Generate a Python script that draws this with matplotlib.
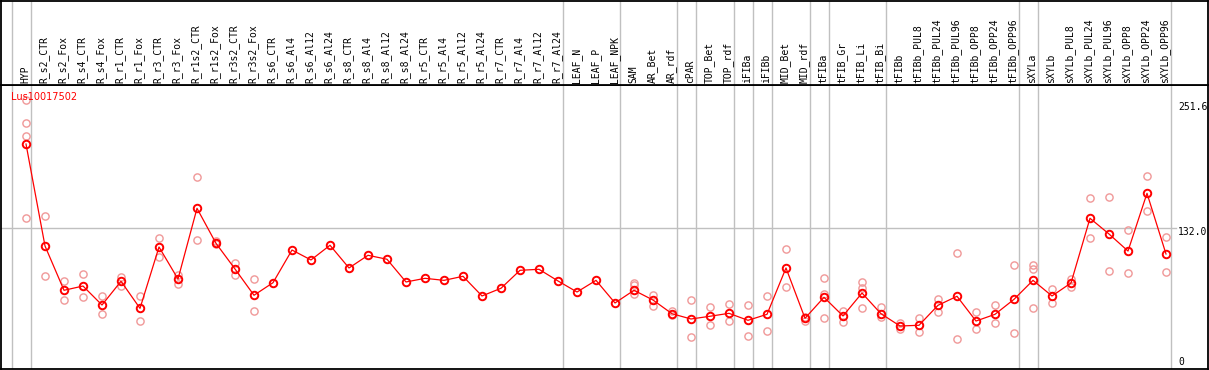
import matplotlib
matplotlib.use("Agg")
import matplotlib.pyplot as plt
import matplotlib.transforms as mtransforms
import numpy as np

# Data
gene = "Lus10017502"

samples = ['HYP', 'R_s2_CTR', 'R_s2_Fox', 'R_s4_CTR', 'R_s4_Fox', 'R_r1_CTR',
           'R_r1_Fox', 'R_r3_CTR', 'R_r3_Fox', 'R_r1s2_CTR', 'R_r1s2_Fox',
           'R_r3s2_CTR', 'R_r3s2_Fox', 'R_s6_CTR', 'R_s6_Al4', 'R_s6_Al12',
           'R_s6_Al24', 'R_s8_CTR', 'R_s8_Al4', 'R_s8_Al12', 'R_s8_Al24',
           'R_r5_CTR', 'R_r5_Al4', 'R_r5_Al12', 'R_r5_Al24', 'R_r7_CTR',
           'R_r7_Al4', 'R_r7_Al12', 'R_r7_Al24', 'LEAF_N', 'LEAF_P', 'LEAF_NPK',
           'SAM', 'AR_Bet', 'AR_rdf', 'cPAR', 'TOP_Bet', 'TOP_rdf', 'iFIBa',
           'iFIBb', 'MID_Bet', 'MID_rdf', 'tFIBa', 'tFIB_Gr', 'tFIB_Li',
           'tFIB_Bi', 'tFIBb', 'tFIBb_PUL8', 'tFIBb_PUL24', 'tFIBb_PUL96',
           'tFIBb_OPP8', 'tFIBb_OPP24', 'tFIBb_OPP96', 'sXYLa', 'sXYLb',
           'sXYLb_PUL8', 'sXYLb_PUL24', 'sXYLb_PUL96', 'sXYLb_OPP8',
           'sXYLb_OPP24', 'sXYLb_OPP96']

# number of samples in each group (separated by grey lines)
group_sizes = [1, 28, 3, 3, 1, 2, 1, 1, 2, 1, 3, 7, 1, 7]

means = [215.1, 114.6, 70.9, 75.1, 56.4, 79.8, 53.1, 113.6, 82.0, 151.7,
         117.2, 91.9, 66.0, 78.4, 110.6, 100.8, 115.3, 92.9, 105.4, 101.5,
         79.1, 82.7, 80.7, 84.7, 65.3, 72.9, 90.6, 91.6, 80.1, 69.2, 80.7,
         58.4, 70.9, 61.3, 47.8, 42.6, 45.3, 48.2, 41.3, 47.2, 92.9, 43.3,
         64.0, 45.6, 68.2, 47.8, 35.7, 36.4, 56.1, 65.0, 40.6, 47.2, 62.0,
         80.7, 65.3, 78.1, 141.9, 126.4, 109.6, 166.5, 106.7]

replicates = [
    [259.0, 235.5, 223.0, 141.9], [144.2, 85.0], [80.1, 61.3], [87.0, 64.3],
    [65.3, 47.2], [84.3, 75.4], [65.3, 40.6], [122.5, 103.7], [86.3, 76.8],
    [182.3, 120.5], [119.2, 116.5], [97.8, 85.7], [81.7, 50.5],
    [], [], [], [], [], [], [], [], [], [], [], [], [], [], [], [],
    [], [], [],
    [78.4, 75.8, 66.9], [66.6, 55.1], [50.8, 46.2], [61.3, 24.6],
    [54.1, 36.4], [57.1, 40.3], [56.4, 25.5], [65.0, 30.8], [111.3, 73.9],
    [44.9, 40.9], [83.0, 67.2, 43.3], [50.8, 39.3], [79.1, 73.5, 53.1],
    [54.4, 44.6], [38.9, 32.4], [43.3, 30.1], [62.0, 49.2], [107.4, 22.9],
    [49.2, 32.4], [56.1, 38.4], [95.5, 28.8], [96.1, 91.6, 53.1],
    [71.9, 58.7], [81.7, 74.4], [161.6, 122.2], [162.6, 89.6],
    [130.1, 87.7], [183.3, 149.1], [123.2, 89.2]]

y_ticks = [251.6, 132.0, 0]

W, H = 1209, 370
fig = plt.figure(figsize=(W / 100, H / 100), dpi=100)

x = np.arange(len(samples))
xlim = (-25.5 / 19, -25.5 / 19 + 1207 / 19)

ax = fig.add_axes([0.5 / W, 1 / H, 1207 / W, 284 / H])
axh = fig.add_axes([0.5 / W, 285 / H, 1207 / W, 84.5 / H], sharex=ax)

for a in (ax, axh):
    a.set_xlim(*xlim)
    a.set_xticks([])
    a.set_yticks([])
    for s in a.spines.values():
        s.set_linewidth(1.3)
        s.set_color('black')
ax.set_ylim(-6.7, 273.3)
axh.set_ylim(0, 1)

# group separators
bounds = np.cumsum(group_sizes) - 1
for b in np.concatenate([[-1], bounds]):
    for a in (ax, axh):
        a.axvline(b + 0.24, color='#c0c0c0', lw=1.0, zorder=0)

# horizontal reference line
ax.plot([xlim[0], 60.5], [y_ticks[1], y_ticks[1]], color='#c0c0c0', lw=1.0, zorder=0)

# replicates
for i, reps in enumerate(replicates):
    if reps:
        ax.plot([i] * len(reps), reps, linestyle='none', marker='o', ms=5.2,
                mfc='none', mec='#f09898', mew=1.0, zorder=2)

# means
ax.plot(x, means, color='red', lw=0.9, marker='o', ms=5.4, mfc='none',
        mec='red', mew=1.4, zorder=3)

# header labels
for i, name in enumerate(samples):
    axh.text(i - 0.05, 0.025, name, rotation=90, ha='center', va='bottom',
             family='DejaVu Sans Mono', fontsize=7, color='black')

# title
ax.text(10 / 1207, 1 - 12.3 / 284, gene, transform=ax.transAxes, color='red',
        fontsize=7, family='DejaVu Sans', ha='left', va='center', zorder=4)

# value labels on the right
trans = mtransforms.blended_transform_factory(ax.transAxes, ax.transData)
ax.text(1177.5 / 1207, y_ticks[0], f"{y_ticks[0]:.1f}", transform=trans,
        family='DejaVu Sans Mono', fontsize=7, ha='left', va='center', clip_on=False)
trans_low = mtransforms.offset_copy(trans, fig=fig, y=-3.4, units='dots')
ax.text(1177.5 / 1207, y_ticks[1], f"{y_ticks[1]:.1f}", transform=trans_low,
        family='DejaVu Sans Mono', fontsize=7, ha='left', va='center')
ax.text(1177.5 / 1207, y_ticks[2], f"{y_ticks[2]}", transform=trans,
        family='DejaVu Sans Mono', fontsize=7, ha='left', va='center')

fig.savefig("out.png", dpi=100)
